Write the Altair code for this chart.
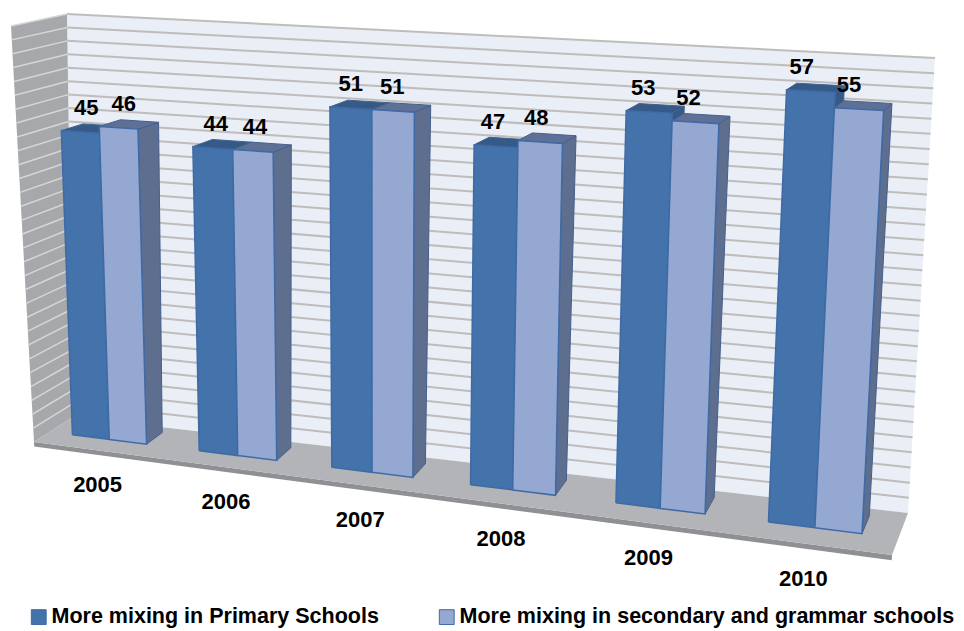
import altair as alt
import pandas as pd

# ---- chart values ----
years = ["2005", "2006", "2007", "2008", "2009", "2010"]
primary = [45, 44, 51, 47, 53, 57]
secondary = [46, 44, 51, 48, 52, 55]
series_names = ["More mixing in Primary Schools", "More mixing in secondary and grammar schools"]
grid_steps = list(range(0, 31))

# ---- perspective box (back/front, bottom/top, left/right corners on the page) ----
BBL, BBR = (73, 417), (908, 513)
FBL, FBR = (34, 442), (892, 555)
BTL, BTR = (67, 14), (935, 58)
FTL, FTR = (11, 26), (917, 72)
K = 1.15
AXIS_TOP = 61.0
SLOT = 6
OFFSET, GROUP = 0.185, 0.59
F_FRONT, F_BACK = 0.60, 0.17


def mix(a, b, s):
    return (a[0] + (b[0] - a[0]) * s, a[1] + (b[1] - a[1]) * s)


def P(u, f, t):
    w = u / (u + K * (1 - u))
    bottom = mix(mix(BBL, BBR, w), mix(FBL, FBR, w), f)
    top = mix(mix(BTL, BTR, w), mix(FTL, FTR, w), f)
    return mix(bottom, top, t)


rows_back, rows_dark, rows_front = [], [], []


def add(rows, name, pts, **extra):
    for n, p in enumerate(list(pts) + [pts[0]]):
        rows.append({"face": name, "seq": n, "x": p[0], "y": p[1], **extra})


# room
add(rows_back, "wall", [P(0, 0, 0), P(1, 0, 0), P(1, 0, 1), P(0, 0, 1)], shade="#e9eef7")
add(rows_back, "left", [P(0, 0, 0), P(0, 1, 0), P(0, 1, 1), P(0, 0, 1)], shade="#a6a8ab")
add(rows_back, "edge", [P(0, 1, 0), P(1, 1, 0), P(1, 1, -0.011), P(0, 1, -0.011)], shade="#8e9093")
add(rows_back, "floor", [P(0, 0, 0), P(1, 0, 0), P(1, 1, 0), P(0, 1, 0)], shade="#b2b4b7")

grid_wall, grid_left = [], []
for k in grid_steps[1:]:
    t = k / 30
    grid_wall += [
        {"line": k, "seq": 0, "x": P(0, 0, t)[0], "y": P(0, 0, t)[1]},
        {"line": k, "seq": 1, "x": P(1, 0, t)[0], "y": P(1, 0, t)[1]},
    ]
    grid_left += [
        {"line": k, "seq": 0, "x": P(0, 0, t)[0], "y": P(0, 0, t)[1]},
        {"line": k, "seq": 1, "x": P(0, 1, t)[0], "y": P(0, 1, t)[1]},
    ]

value_labels, year_labels = [], []
for i, yr in enumerate(years):
    u0 = (i + OFFSET) / SLOT
    du = GROUP / SLOT / 2
    for s, (vals, top_c, side_c, name) in enumerate(
        [(primary, "#355a88", "#355a88", series_names[0]),
         (secondary, "#5f7097", "#5e6e8f", series_names[1])]
    ):
        a, b = u0 + s * du, u0 + (s + 1) * du
        t = vals[i] / AXIS_TOP
        add(rows_dark, f"{yr}-{s}-side",
            [P(b, F_FRONT, 0), P(b, F_BACK, 0), P(b, F_BACK, t), P(b, F_FRONT, t)], shade=side_c)
        add(rows_dark, f"{yr}-{s}-top",
            [P(a, F_FRONT, t), P(b, F_FRONT, t), P(b, F_BACK, t), P(a, F_BACK, t)], shade=top_c)
        add(rows_front, f"{yr}-{s}-front",
            [P(a, F_FRONT, 0), P(b, F_FRONT, 0), P(b, F_FRONT, t), P(a, F_FRONT, t)], series=name)
        lab = P((a + b) / 2, F_FRONT, t)
        value_labels.append({"x": lab[0] + 7 - 18 * (a + b) / 2, "y": lab[1] - 24, "text": str(vals[i])})
    c = P(u0 + du, 1, 0)
    year_labels.append({"x": c[0] + 4 - 9 * (u0 + du), "y": c[1] + 35, "text": yr})

# ---- page coordinates through linear scales ----
W, H = 948, 623
xs = alt.Scale(domain=[8, 8 + W], range=[0, W])
ys = alt.Scale(domain=[8, 8 + H], range=[0, H])
X = alt.X("x:Q", scale=xs, axis=None)
Y = alt.Y("y:Q", scale=ys, axis=None)
FONT = "Liberation Sans"

back = alt.Chart(pd.DataFrame(rows_back)).mark_line(filled=True, strokeWidth=0).encode(
    x=X, y=Y, detail="face:N", order="seq:Q", color=alt.Color("shade:N", scale=None))
gw = alt.Chart(pd.DataFrame(grid_wall)).mark_line(color="#b9b7b4", strokeWidth=2, opacity=0.9).encode(
    x=X, y=Y, detail="line:N", order="seq:Q")
gl = alt.Chart(pd.DataFrame(grid_left)).mark_line(color="#d6d6d6", strokeWidth=1.5).encode(
    x=X, y=Y, detail="line:N", order="seq:Q")
dark = alt.Chart(pd.DataFrame(rows_dark)).mark_line(filled=True, strokeWidth=1, stroke="#44608c").encode(
    x=X, y=Y, detail="face:N", order="seq:Q", color=alt.Color("shade:N", scale=None))
front = alt.Chart(pd.DataFrame(rows_front)).mark_line(filled=True, strokeWidth=1.5, stroke="#3f6aa6").encode(
    x=X, y=Y, detail="face:N", order="seq:Q",
    color=alt.Color(
        "series:N",
        scale=alt.Scale(domain=series_names, range=["#4472aa", "#94a8d2"]),
        legend=alt.Legend(
            title=None, orient="none", legendX=20, legendY=598, direction="horizontal",
            symbolType="square", symbolSize=220, symbolStrokeColor="#3f6aa6", symbolStrokeWidth=1,
            labelFont=FONT, labelFontSize=21.5, labelFontWeight="bold", labelColor="black",
            labelLimit=600, columnPadding=57, labelOffset=2,
        ),
    ))
vals = alt.Chart(pd.DataFrame(value_labels)).mark_text(
    font=FONT, fontSize=22, fontWeight="bold", color="black").encode(x=X, y=Y, text="text:N")
yrs = alt.Chart(pd.DataFrame(year_labels)).mark_text(
    font=FONT, fontSize=22, fontWeight="bold", color="black").encode(x=X, y=Y, text="text:N")

chart = (
    alt.layer(back, gw, gl, dark, front, vals, yrs)
    .resolve_scale(color="independent")
    .properties(width=W, height=H, padding=0, autosize=alt.AutoSizeParams(type="none"))
    .configure_view(stroke=None)
)
chart.save("out.html", embed_options={"renderer": "svg", "actions": False})
